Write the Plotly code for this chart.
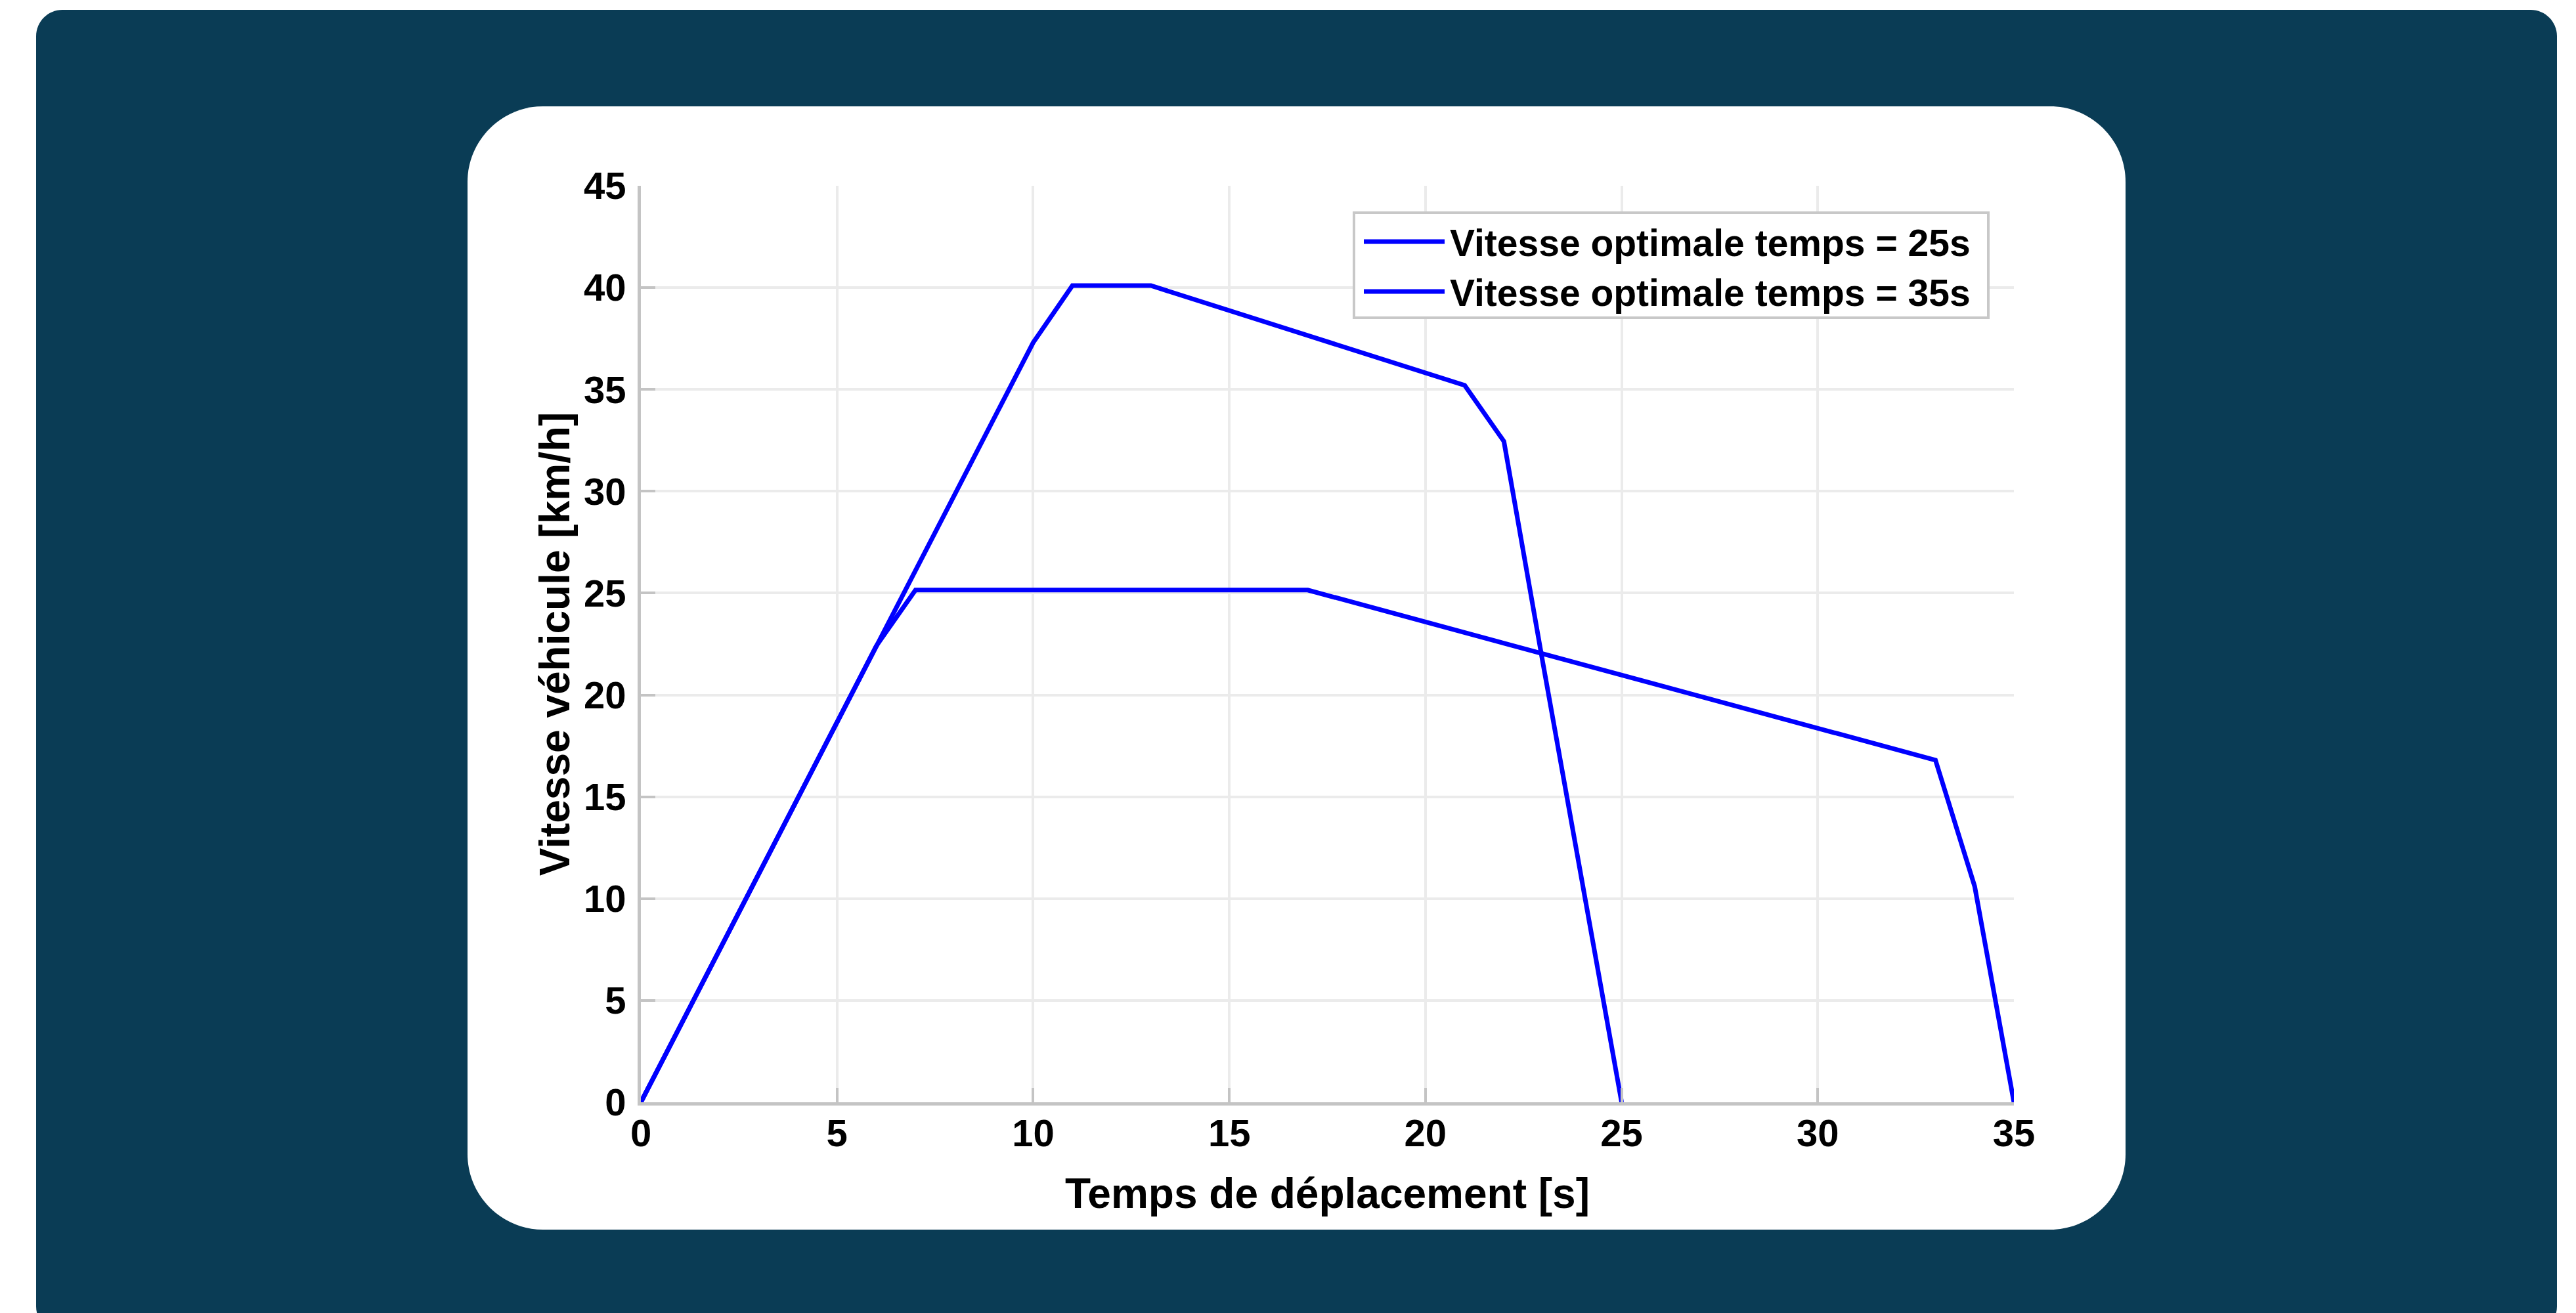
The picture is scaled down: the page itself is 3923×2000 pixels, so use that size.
import plotly.graph_objects as go

# ---------------- data ----------------
t_25 = [0, 10, 11, 13, 21, 22, 23, 25]
v_25 = [0, 37.3, 40.1, 40.1, 35.2, 32.45, 21.5, 0]

t_35 = [0, 6, 7, 17, 33, 34, 35]
v_35 = [0, 22.4, 25.15, 25.15, 16.8, 10.6, 0]

series_names = ["Vitesse optimale temps = 25s", "Vitesse optimale temps = 35s"]
x_ticks = [0, 5, 10, 15, 20, 25, 30, 35]
y_ticks = [0, 5, 10, 15, 20, 25, 30, 35, 40, 45]
x_title = "Temps de déplacement [s]"
y_title = "Vitesse véhicule [km/h]"

# ---------------- layout constants ----------------
W, H = 3923, 2000
OFF = 8  # page body margin offset
ML, MR, MT, MB = 976 - OFF, 856 + OFF, 283 - OFF, 321 + OFF
PW = W - ML - MR
PH = H - MT - MB
BLUE = "#0000ff"
DARK = "#0a3c55"
AXIS_GRAY = "#c4c4c4"
GRID_GRAY = "#ebebeb"
FONT = "Liberation Sans, Arial, sans-serif"


def fx(px):
    return (px - OFF - ML) / PW


def fy(py):
    return (H - MB - (py - OFF)) / PH


def rounded_path(x0, y0, x1, y1, r):
    k = 0.45  # bezier handle factor
    pts = [
        f"M{fx(x0 + r)},{fy(y0)}",
        f"L{fx(x1 - r)},{fy(y0)}",
        f"C{fx(x1 - r * k)},{fy(y0)} {fx(x1)},{fy(y0 + r * k)} {fx(x1)},{fy(y0 + r)}",
        f"L{fx(x1)},{fy(y1 - r)}",
        f"C{fx(x1)},{fy(y1 - r * k)} {fx(x1 - r * k)},{fy(y1)} {fx(x1 - r)},{fy(y1)}",
        f"L{fx(x0 + r)},{fy(y1)}",
        f"C{fx(x0 + r * k)},{fy(y1)} {fx(x0)},{fy(y1 - r * k)} {fx(x0)},{fy(y1 - r)}",
        f"L{fx(x0)},{fy(y0 + r)}",
        f"C{fx(x0)},{fy(y0 + r * k)} {fx(x0 + r * k)},{fy(y0)} {fx(x0 + r)},{fy(y0)}",
        "Z",
    ]
    return " ".join(pts)


fig = go.Figure()
fig.add_trace(go.Scatter(x=t_25, y=v_25, mode="lines", name=series_names[0],
                         line=dict(color=BLUE, width=7), showlegend=False))
fig.add_trace(go.Scatter(x=t_35, y=v_35, mode="lines", name=series_names[1],
                         line=dict(color=BLUE, width=7), showlegend=False))

shapes = [
    dict(type="path", xref="paper", yref="paper", layer="below",
         path=rounded_path(55, 15, 3894, 2030, 40),
         fillcolor=DARK, line=dict(width=0)),
    dict(type="path", xref="paper", yref="paper", layer="below",
         path=rounded_path(712, 162, 3237, 1873, 115),
         fillcolor="white", line=dict(width=0)),
    # legend box
    dict(type="rect", xref="paper", yref="paper", layer="above",
         x0=fx(2062), x1=fx(3028), y0=fy(484), y1=fy(324),
         fillcolor="white", line=dict(color="#c8c8c8", width=4)),
]
annotations = []
legend_rows = [368, 444]
for name, ry in zip(series_names, legend_rows):
    shapes.append(dict(type="line", xref="paper", yref="paper", layer="above",
                       x0=fx(2077), x1=fx(2200), y0=fy(ry), y1=fy(ry),
                       line=dict(color=BLUE, width=7)))
    annotations.append(dict(xref="paper", yref="paper", x=fx(2206), y=fy(ry + 2),
                            xanchor="left", yanchor="middle", showarrow=False,
                            text=name, font=dict(family=FONT, size=57, color="black",
                                                 weight="bold")))

axis_common = dict(
    showgrid=True, gridcolor=GRID_GRAY, gridwidth=4,
    showline=True, linecolor=AXIS_GRAY, linewidth=5,
    ticks="inside", ticklen=22, tickwidth=4, tickcolor=AXIS_GRAY,
    zeroline=False, mirror=False,
    tickfont=dict(family=FONT, size=58, color="black", weight="bold"),
)

fig.update_layout(
    width=W, height=H, autosize=False,
    margin=dict(l=ML, r=MR, t=MT, b=MB, pad=0),
    paper_bgcolor="white", plot_bgcolor="rgba(0,0,0,0)",
    showlegend=False,
    xaxis=dict(range=[0, 35], tickvals=x_ticks, ticktext=[str(v) for v in x_ticks],
               ticklabelstandoff=-8,
               title=dict(text=x_title, standoff=40,
                          font=dict(family=FONT, size=64, color="black", weight="bold")),
               **axis_common),
    yaxis=dict(range=[0, 45], tickvals=y_ticks, ticktext=[str(v) for v in y_ticks],
               ticklabelstandoff=6,
               title=dict(text=y_title, standoff=2,
                          font=dict(family=FONT, size=64, color="black", weight="bold")),
               **axis_common),
    shapes=shapes,
    annotations=annotations,
)

fig.write_html("out.html")
